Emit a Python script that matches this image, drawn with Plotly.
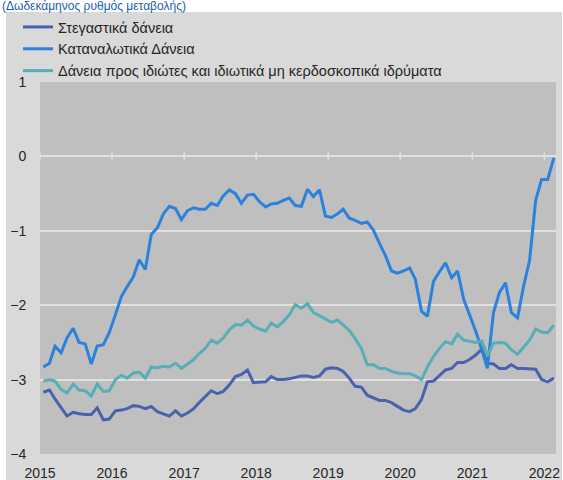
import pandas as pd
import plotly.graph_objects as go

# Monthly observations, Jan 2015 - Feb 2022
months = pd.date_range("2015-01-01", periods=86, freq="MS") + pd.Timedelta(days=17)

housing = [
    -3.17, -3.14, -3.26, -3.38, -3.49, -3.44, -3.46, -3.47, -3.47, -3.38,
    -3.54, -3.53, -3.42, -3.41, -3.39, -3.35, -3.36, -3.39, -3.36, -3.43,
    -3.46, -3.49, -3.42, -3.49, -3.45, -3.39, -3.31, -3.23, -3.15, -3.19,
    -3.16, -3.07, -2.96, -2.93, -2.87, -3.04, -3.03, -3.03, -2.96, -3.00,
    -3.00, -2.99, -2.97, -2.95, -2.95, -2.97, -2.95, -2.86, -2.84, -2.85,
    -2.89, -2.98, -3.09, -3.10, -3.21, -3.25, -3.28, -3.28, -3.31, -3.36,
    -3.41, -3.43, -3.39, -3.27, -3.03, -3.02, -2.94, -2.87, -2.85, -2.77,
    -2.77, -2.73, -2.67, -2.59, -2.78, -2.79, -2.85, -2.85, -2.80, -2.85,
    -2.85, -2.85, -2.86, -3.00, -3.03, -2.98,
]

consumer = [
    -2.83, -2.78, -2.55, -2.64, -2.44, -2.31, -2.50, -2.52, -2.79, -2.55,
    -2.53, -2.37, -2.13, -1.88, -1.75, -1.62, -1.39, -1.52, -1.05, -0.96,
    -0.77, -0.67, -0.70, -0.85, -0.73, -0.69, -0.71, -0.71, -0.63, -0.66,
    -0.53, -0.45, -0.50, -0.63, -0.52, -0.51, -0.61, -0.68, -0.64, -0.63,
    -0.59, -0.56, -0.66, -0.67, -0.44, -0.54, -0.45, -0.80, -0.82, -0.77,
    -0.71, -0.83, -0.86, -0.90, -0.88, -0.99, -1.17, -1.33, -1.54, -1.57,
    -1.54, -1.50, -1.65, -2.08, -2.15, -1.68, -1.55, -1.43, -1.63, -1.54,
    -1.92, -2.13, -2.35, -2.60, -2.85, -2.10, -1.83, -1.70, -2.10, -2.17,
    -1.74, -1.40, -0.59, -0.31, -0.31, -0.02,
]

individuals = [
    -3.02, -3.00, -3.02, -3.13, -3.18, -3.06, -3.14, -3.15, -3.22, -3.06,
    -3.16, -3.15, -3.00, -2.94, -2.98, -2.91, -2.90, -2.98, -2.83, -2.84,
    -2.82, -2.83, -2.78, -2.85, -2.79, -2.73, -2.65, -2.58, -2.47, -2.51,
    -2.44, -2.33, -2.26, -2.27, -2.20, -2.28, -2.32, -2.35, -2.24, -2.29,
    -2.22, -2.13, -1.99, -2.04, -1.98, -2.10, -2.14, -2.19, -2.23, -2.20,
    -2.27, -2.34, -2.45, -2.58, -2.80, -2.80, -2.85, -2.85, -2.89, -2.91,
    -2.92, -2.92, -2.95, -3.00, -2.83, -2.69, -2.58, -2.49, -2.52, -2.39,
    -2.47, -2.48, -2.50, -2.48, -2.68, -2.51, -2.50, -2.51, -2.60, -2.66,
    -2.56, -2.47, -2.32, -2.36, -2.37, -2.27,
]

series_names = [
    "Στεγαστικά δάνεια",
    "Καταναλωτικά Δάνεια",
    "Δάνεια προς ιδιώτες και ιδιωτικά μη κερδοσκοπικά ιδρύματα",
]
series_colors = ["#4a62ae", "#2b82dc", "#58aeb6"]

year_ticks = ["2015-01-01", "2016-01-01", "2017-01-01", "2018-01-01",
              "2019-01-01", "2020-01-01", "2021-01-01", "2022-01-01"]
year_labels = ["2015", "2016", "2017", "2018", "2019", "2020", "2021", "2022"]
y_ticks = [1, 0, -1, -2, -3, -4]

title_text = "(Δωδεκάμηνος ρυθμός μεταβολής)"

FONT = "Liberation Sans, Arial, sans-serif"

fig = go.Figure()
for name, vals, col in zip(series_names, [housing, consumer, individuals], series_colors):
    fig.add_trace(go.Scatter(
        x=months, y=vals, name=name, mode="lines",
        line=dict(color=col, width=3),
    ))

shapes = [
    # white outer strips (top, left, right)
    dict(type="rect", xref="paper", yref="paper", x0=-0.09, x1=-0.0659,
         y0=-0.1, y1=1.25, fillcolor="white", line=dict(width=0), layer="below"),
    dict(type="rect", xref="paper", yref="paper", x0=-0.09, x1=1.02,
         y0=1.1882, y1=1.25, fillcolor="white", line=dict(width=0), layer="below"),
    dict(type="rect", xref="paper", yref="paper", x0=1.0116, x1=1.03,
         y0=-0.1, y1=1.25, fillcolor="white", line=dict(width=0), layer="below"),
]
# tick marks crossing the horizontal axis at zero
for t in year_ticks:
    shapes.append(dict(type="line", xref="x", yref="y", x0=t, x1=t,
                       ysizemode="pixel", yanchor=0, y0=-4, y1=4,
                       line=dict(color="#e0e0e0", width=1.5), layer="below"))

fig.update_layout(
    width=563, height=480,
    margin=dict(l=40, r=7, t=82, b=26, autoexpand=False),
    paper_bgcolor="#d9d9d9",
    plot_bgcolor="#bfbfbf",
    font=dict(family=FONT, size=13, color="#404040"),
    showlegend=True,
    legend=dict(
        xref="container", yref="container",
        x=18 / 563, xanchor="left", y=1 - 11 / 480, yanchor="top",
        bgcolor="rgba(0,0,0,0)", font=dict(size=14.5, color="#262626"),
        tracegroupgap=0,
    ),
    shapes=shapes,
    annotations=[dict(
        text=title_text, xref="paper", yref="paper",
        x=-0.0775, xanchor="left", y=(454 - 6) / 372, yanchor="middle",
        showarrow=False, font=dict(size=12, color="#2060b0", family=FONT),
    )],
)

fig.update_xaxes(
    type="date", range=["2015-01-01", "2022-03-01"],
    tickvals=year_ticks, ticktext=year_labels,
    showgrid=False, zeroline=False, showline=False, automargin=False,
    ticks="outside", ticklen=6, tickcolor="rgba(0,0,0,0)",
    tickfont=dict(size=14, color="#262626"),
)
fig.update_yaxes(
    range=[-4, 1], tickvals=y_ticks,
    showgrid=True, gridcolor="#e0e0e0", gridwidth=1.5,
    zeroline=False, showline=False, automargin=False,
    ticks="outside", ticklen=10, tickcolor="rgba(0,0,0,0)",
    tickfont=dict(size=14, color="#262626"),
)

fig.write_html(
    "out.html",
    config={"displayModeBar": False},
    post_script="document.body.style.margin='0';document.body.style.overflow='hidden';",
)
